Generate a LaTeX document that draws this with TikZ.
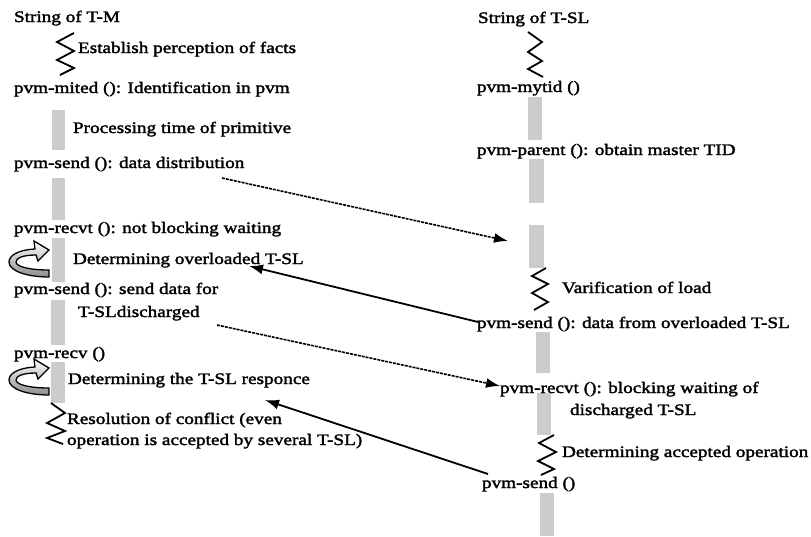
\documentclass[tikz,border=0pt]{standalone}
\usepackage{fontspec}
\setmainfont{Liberation Serif}[FakeStretch=1.2,FakeBold=2]
\usetikzlibrary{arrows.meta}
\tikzset{
  lbl/.style={anchor=base west, inner sep=0pt, outer sep=0pt, font=\fontsize{16}{19}\selectfont},
  graybar/.style={fill=black!20, draw=none},
  zz/.style={line width=1.8pt, line join=miter, black},
  msgdash/.style={line width=1.6pt, dash pattern=on 3pt off 1pt, -{Latex[length=14pt,width=10pt]}},
  msgsolid/.style={line width=1.8pt, -{Latex[length=14pt,width=10pt]}},
  loopsh/.style={draw=black, line width=1.3pt, top color=white, bottom color=black!45},
  cyclearrow/.pic={
    \path[loopsh] (26,8) .. controls (8,9) and (0,15) .. (0,21)
      .. controls (0,30) and (18,36) .. (40,36) -- (40,29)
      .. controls (22,29) and (7,26) .. (7,21)
      .. controls (7,17) and (14,14) .. (27,14) -- (29,20) -- (40,9) -- (25,0) -- cycle;
  }
}
\begin{document}
\begin{tikzpicture}[x=1pt,y=-1pt]
\useasboundingbox[fill=white] (0,0) rectangle (811,536);

% gray bars, left
\fill[graybar] (52,110) rectangle (65,150);
\fill[graybar] (52,178) rectangle (65,220);
\fill[graybar] (52,238) rectangle (65,282);
\fill[graybar] (51,300) rectangle (65,345);
\fill[graybar] (51,362) rectangle (65,403);
% gray bars, right
\fill[graybar] (528,97) rectangle (542,140);
\fill[graybar] (529,159) rectangle (544,203);
\fill[graybar] (529,225) rectangle (544,268);
\fill[graybar] (536,332) rectangle (550,373);
\fill[graybar] (537,393) rectangle (551,435);
\fill[graybar] (540,493) rectangle (554,536);

% zigzags
\draw[zz] (74,33) -- (57,42) -- (74,51) -- (57,60) -- (74,68) -- (60,75);
\draw[zz] (528,32) -- (542,42) -- (528,52) -- (542,61) -- (528,69) -- (543,77);
\draw[zz] (546,268) -- (532,276) -- (548,284) -- (532,293) -- (548,302) -- (534,310);
\draw[zz] (554,435) -- (539,443) -- (556,452) -- (538,461) -- (554,469) -- (541,475);
\draw[zz] (51,403) -- (65,413) -- (47,423) -- (65,431) -- (47,438) -- (63,444);

% cycle arrows
\pic at (9,241) {cyclearrow};
\pic at (9,359) {cyclearrow};

% labels, left string
\node[lbl] (tm)   at (14,22)  {String of T-M};
\node[lbl] (est)  at (78,53)  {Establish perception of facts};
\node[lbl] (mit)  at (14,93)  {pvm-mited (): Identification in pvm};
\node[lbl] (proc) at (73,133) {Processing time of primitive};
\node[lbl] (snd1) at (14,168) {pvm-send (): data distribution};
\node[lbl] (rcvt) at (14,233) {pvm-recvt (): not blocking waiting};
\node[lbl] (detov) at (73,264) {Determining overloaded T-SL};
\node[lbl] (snd2) at (14,294) {pvm-send (): send data for};
\node[lbl] (snd2b) at (78,317) {T-SLdischarged};
\node[lbl] (rcv)  at (14,358) {pvm-recv ()};
\node[lbl] (detr) at (68,384) {Determining the T-SL responce};
\node[lbl] (res1) at (67,424) {Resolution of conflict (even};
\node[lbl] (res2) at (67,445) {operation is accepted by several T-SL)};

% labels, right string
\node[lbl] (tsl)  at (478,23)  {String of T-SL};
\node[lbl] (myt)  at (477,92)  {pvm-mytid ()};
\node[lbl] (par)  at (477,155) {pvm-parent (): obtain master TID};
\node[lbl] (ver)  at (562,293) {Varification of load};
\node[lbl] (snd3) at (477,328) {pvm-send (): data from overloaded T-SL};
\node[lbl] (rcvb) at (500,393) {pvm-recvt (): blocking waiting of};
\node[lbl] (rcvb2) at (570,415) {discharged T-SL};
\node[lbl] (deta) at (562,457) {Determining accepted operation};
\node[lbl] (snd4) at (482,488) {pvm-send ()};

% message end points
\coordinate (m1s) at (222,178);
\coordinate (m1e) at (508,241);
\coordinate (m2s) at (478,322);
\coordinate (m2e) at (249,266);
\coordinate (m3s) at (217,325);
\coordinate (m3e) at (500,386);
\coordinate (m4s) at (488,474);
\coordinate (m4e) at (265,400);

\draw[msgdash]  (m1s) -- (m1e);
\draw[msgsolid] (m2s) -- (m2e);
\draw[msgdash]  (m3s) -- (m3e);
\draw[msgsolid] (m4s) -- (m4e);
\end{tikzpicture}
\end{document}
